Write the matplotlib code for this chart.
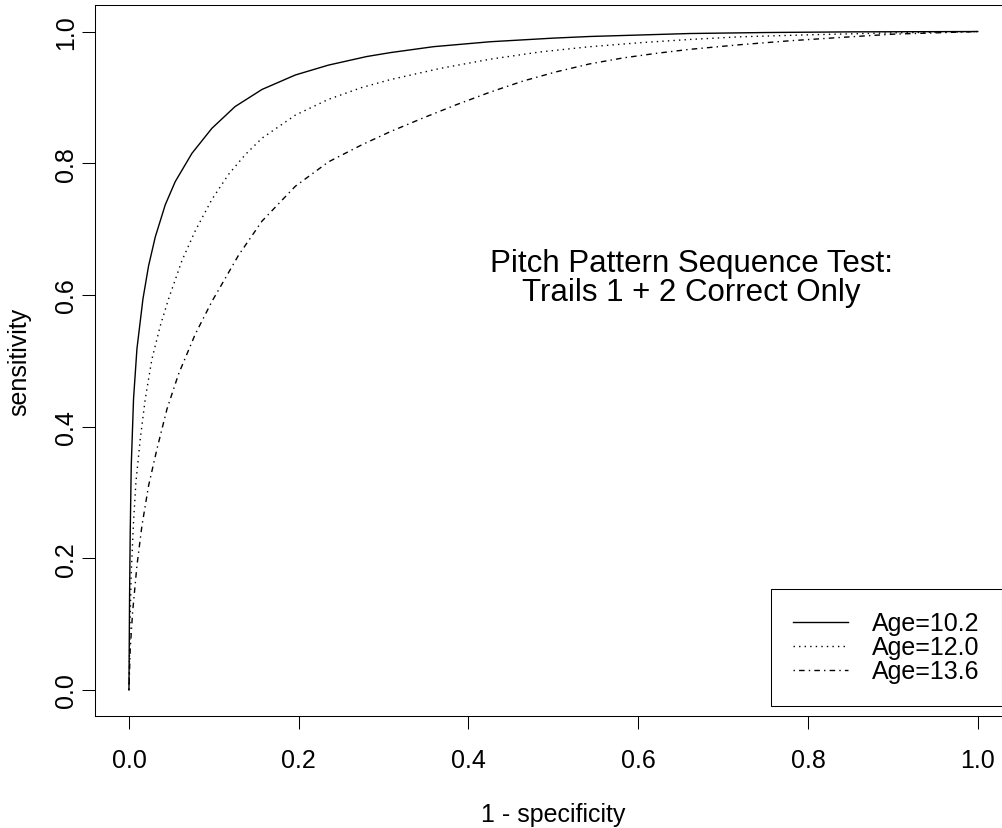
import matplotlib
matplotlib.use("Agg")
import matplotlib.pyplot as plt

plt.rcParams['font.family'] = ['Liberation Sans', 'DejaVu Sans']

# ROC curves (1 - specificity, sensitivity)
fpr_102 = [0.0, 0.0007, 0.0015, 0.0027, 0.0054, 0.0094, 0.0165, 0.0231, 0.031, 0.0428,
           0.0545, 0.0742, 0.0977, 0.125, 0.1567, 0.196, 0.235, 0.280, 0.308, 0.3588,
           0.4256, 0.5, 0.5433, 0.661, 0.75, 0.85, 1.0]
tpr_102 = [0.0, 0.138, 0.2395, 0.3406, 0.442, 0.518, 0.594, 0.644, 0.688, 0.737,
           0.772, 0.815, 0.853, 0.886, 0.912, 0.934, 0.949, 0.962, 0.968, 0.977,
           0.9845, 0.990, 0.9925, 0.997, 0.9985, 0.9995, 1.0]

fpr_120 = [0.0, 0.0012, 0.0027, 0.0054, 0.0082, 0.0133, 0.0192, 0.0271, 0.0369, 0.0467,
           0.0624, 0.078, 0.0977, 0.1173, 0.137, 0.1567, 0.196, 0.235, 0.2744, 0.308,
           0.3667, 0.4256, 0.4844, 0.5433, 0.602, 0.661, 0.72, 0.8, 0.9, 1.0]
tpr_120 = [0.0, 0.0977, 0.1787, 0.255, 0.3154, 0.381, 0.442, 0.5027, 0.553, 0.594,
           0.652, 0.697, 0.745, 0.783, 0.813, 0.838, 0.873, 0.897, 0.915, 0.927,
           0.944, 0.958, 0.969, 0.977, 0.983, 0.988, 0.992, 0.995, 0.998, 1.0]

fpr_136 = [0.0, 0.0015, 0.0043, 0.0094, 0.0153, 0.0231, 0.033, 0.0448, 0.0585, 0.078,
           0.0977, 0.129, 0.1567, 0.196, 0.235, 0.2744, 0.308, 0.347, 0.386,
           0.4256, 0.4648, 0.504, 0.5433, 0.5826, 0.622, 0.661, 0.72, 0.779, 0.838,
           0.9, 1.0]
tpr_136 = [0.0, 0.0623, 0.118, 0.1888, 0.2495, 0.310, 0.366, 0.4267, 0.480, 0.540,
           0.590, 0.660, 0.712, 0.765, 0.802, 0.828, 0.848, 0.869, 0.889,
           0.908, 0.925, 0.939, 0.951, 0.960, 0.967, 0.973, 0.980, 0.986, 0.991,
           0.996, 1.0]

labels = ['Age=10.2', 'Age=12.0', 'Age=13.6']
styles = ['-', (0, (1, 3)), (0, (1, 3, 4, 3))]

fig = plt.figure(figsize=(10.03, 8.29), dpi=100)
ax = fig.add_axes([95 / 1003, 1 - 717.3 / 829, (1011.7 - 95) / 1003, (717.3 - 6.2) / 829])

series = [(fpr_102, tpr_102), (fpr_120, tpr_120), (fpr_136, tpr_136)]
for (x, y), lab, ls in zip(series, labels, styles):
    ax.plot(x, y, color='black', lw=1.0, linestyle=ls, label=lab)

ax.set_xlim(-0.04, 1.04)
ax.set_ylim(-0.04, 1.04)
ticks = [0.0, 0.2, 0.4, 0.6, 0.8, 1.0]
ax.set_xticks(ticks)
ax.set_yticks(ticks)
ax.set_xticklabels(['%.1f' % t for t in ticks])
ax.set_yticklabels(['%.1f' % t for t in ticks], rotation=90, va='center')
ax.tick_params(axis='both', length=9.5, width=0.75, labelsize=18, color='black')
ax.tick_params(axis='x', pad=13)
ax.tick_params(axis='y', pad=3)
for sp in ax.spines.values():
    sp.set_linewidth(0.75)

ax.set_xlabel('1 - specificity', fontsize=18, labelpad=22)
ax.set_ylabel('sensitivity', fontsize=18, labelpad=16)

ax.text(0.663, 0.627, 'Pitch Pattern Sequence Test:\nTrails 1 + 2 Correct Only',
        ha='center', va='center', fontsize=22.5, linespacing=0.95)

leg = ax.legend(loc='lower right', bbox_to_anchor=(0.9894, 0.0145),
                bbox_transform=ax.transAxes, borderaxespad=0, fancybox=False,
                edgecolor='black', framealpha=1, fontsize=18, handlelength=2.2,
                handletextpad=0.95, borderpad=0.9, labelspacing=0.0)
leg.get_frame().set_linewidth(0.75)

fig.savefig('out.png', dpi=100)
